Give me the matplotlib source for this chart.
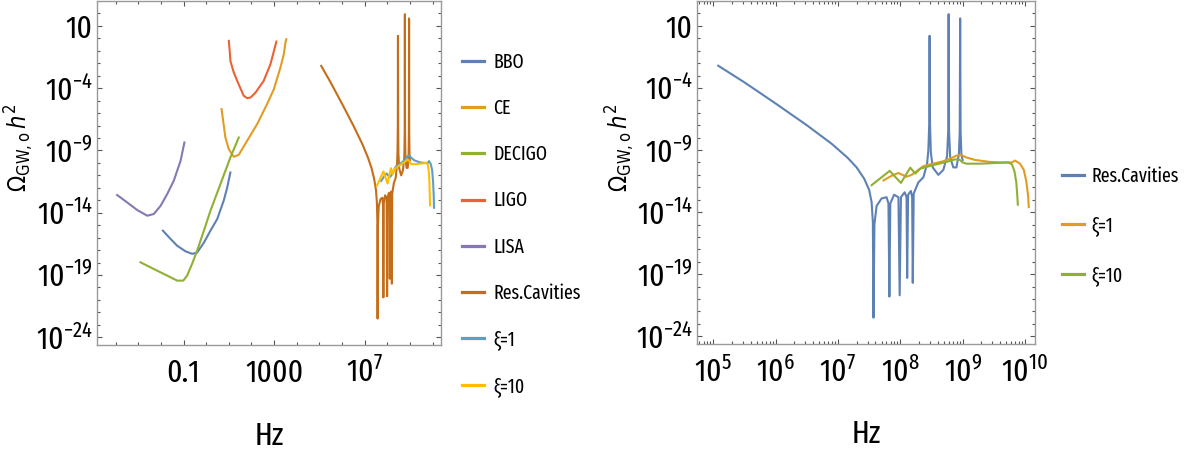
import numpy as np
import matplotlib
matplotlib.use('Agg')
import matplotlib.pyplot as plt
from matplotlib import font_manager
from matplotlib.ticker import FixedLocator, FixedFormatter, NullFormatter, LogLocator

# pick the narrow / condensed sans font closest to "extra-condensed"
SD = {'ultra-condensed': 100, 'extra-condensed': 200, 'condensed': 300, 'semi-condensed': 400,
      'normal': 500, 'semi-expanded': 600, 'expanded': 700, 'extra-expanded': 800, 'ultra-expanded': 900}
best = None
for f in font_manager.fontManager.ttflist:
    fn = f.fname.lower()
    nm = f.name.lower()
    if f.style != 'normal' or f.weight not in (400, 'normal', 'regular'):
        continue
    if any(k in fn or k in nm for k in ('mono', 'cjk', 'display', 'serif', 'math', 'symbol')) and 'sans' not in nm:
        continue
    if 'mono' in fn or 'cjk' in fn:
        continue
    st = f.stretch if isinstance(f.stretch, int) else SD.get(str(f.stretch), 500)
    if 'narrow' in nm or 'narrow' in fn:
        st = min(st, 300)
    if 'extracondensed' in fn.replace('-', '') or 'extracondensed' in nm.replace(' ', ''):
        st = min(st, 200)
    elif 'condensed' in fn or 'condensed' in nm:
        st = min(st, 300)
    if st >= 500:
        continue
    score = abs(st - 220)
    if best is None or score < best[0]:
        best = (score, f.name, f.stretch, st)

if best is None:
    FONT, STRETCH, ST = 'Liberation Sans', 'normal', 500
else:
    FONT, STRETCH, ST = best[1], best[2], best[3]

plt.rcParams['font.family'] = [FONT, 'DejaVu Sans']
plt.rcParams['font.stretch'] = STRETCH
plt.rcParams['mathtext.fontset'] = 'custom'
suffix = (':stretch=' + str(STRETCH)) if STRETCH not in ('normal', 500) else ''
plt.rcParams['mathtext.rm'] = FONT + suffix
plt.rcParams['mathtext.it'] = FONT + ':style=italic' + suffix
plt.rcParams['mathtext.bf'] = FONT + ':weight=bold' + suffix

if ST <= 250:
    TICKFS, LEGFS, HZFS = 23, 14, 23
elif ST <= 350:
    TICKFS, LEGFS, HZFS = 17, 12, 19
else:
    TICKFS, LEGFS, HZFS = 15, 11, 17
YLFS = 17

# ---------------- data (log10 f [Hz], log10 Omega h^2) ----------------
bbo_logf = [-1.91, -1.57, -1.28, -0.91, -0.62, -0.40, -0.10, 0.19, 0.49, 0.78, 0.93, 1.07]
bbo_logo = [-15.44, -16.11, -16.65, -17.1, -17.3, -17.2, -16.4, -15.44, -14.5, -13.0, -11.97, -10.77]

ce_logf = [0.68, 0.75, 0.85, 1.0, 1.22, 1.44, 1.81, 2.25, 2.69, 2.99, 3.28, 3.43, 3.50, 3.54]
ce_logo = [-5.68, -6.62, -7.96, -8.9, -9.51, -9.35, -8.22, -6.89, -5.28, -4.08, -2.34, -1.27, -0.34, -0.07]

decigo_logf = [-2.90, -2.31, -1.72, -1.28, -1.01, -0.84, -0.62, -0.40, -0.10, 0.19, 0.63, 1.07, 1.44]
decigo_logo = [-17.98, -18.52, -19.05, -19.45, -19.45, -19.05, -18.1, -17.05, -15.44, -13.84, -11.7, -9.56, -7.96]

ligo_logf = [1.0, 1.04, 1.07, 1.22, 1.37, 1.51, 1.66, 1.81, 1.96, 2.18, 2.54, 2.84, 3.1]
ligo_logo = [-0.2, -1.0, -1.81, -2.74, -3.41, -4.0, -4.61, -4.8, -4.75, -4.35, -3.41, -2.07, -0.26]

lisa_logf = [-3.93, -3.49, -3.04, -2.60, -2.31, -2.01, -1.72, -1.43, -1.13, -0.96]
lisa_logo = [-12.58, -13.17, -13.79, -14.24, -14.1, -13.44, -12.5, -11.43, -9.83, -8.36]

cav_logf = [5.08, 5.5, 6.0, 6.5, 6.9, 7.15, 7.3, 7.42, 7.5, 7.54, 7.56, 7.57, 7.585, 7.62,
            7.7, 7.78, 7.81, 7.825, 7.84, 7.9, 7.97, 7.99, 8.01, 8.07, 8.10, 8.11, 8.125,
            8.17, 8.19, 8.20, 8.215, 8.29, 8.37, 8.43, 8.45, 8.463, 8.47, 8.477, 8.49, 8.52,
            8.61, 8.69, 8.75, 8.768, 8.775, 8.782, 8.80, 8.85, 8.90, 8.94, 8.953, 8.96, 8.967, 8.98, 9.0]
cav_logo = [-2.21, -3.55, -5.25, -7.0, -8.5, -9.6, -10.4, -11.3, -12.2, -13.2, -14.8, -22.5, -15.0, -13.5,
            -12.9, -12.8, -13.3, -20.8, -13.3, -12.6, -12.8, -20.7, -12.8, -12.4, -12.8, -19.3, -12.6,
            -12.3, -12.8, -19.7, -12.5, -11.6, -11.2, -10.1, -9.0, -7.0, 0.2, -7.0, -9.2, -10.4,
            -11.0, -10.6, -9.5, -7.5, 1.94, -7.5, -9.6, -10.4, -10.4, -9.3, -7.5, 1.6, -7.5, -9.4, -9.8]

xi1_logf = [7.73, 7.85, 7.97, 8.10, 8.18, 8.29, 8.37, 8.53, 8.69, 8.82, 8.90, 8.98, 9.06, 9.2,
            9.44, 9.65, 9.79, 9.84, 9.92, 9.98, 10.02, 10.05, 10.06]
xi1_logo = [-11.45, -11.1, -10.85, -11.15, -11.0, -10.6, -10.3, -10.1, -9.9, -9.65, -9.45, -9.4, -9.6, -9.8,
            -9.96, -10.0, -10.0, -9.85, -10.1, -10.6, -11.5, -12.7, -13.6]

xi10_logf = [7.54, 7.83, 8.01, 8.16, 8.24, 8.32, 8.42, 8.58, 8.74, 8.88, 8.95, 9.0, 9.06, 9.28,
             9.55, 9.73, 9.79, 9.83, 9.86, 9.875, 9.885]
xi10_logo = [-11.83, -10.68, -11.65, -10.42, -10.9, -10.5, -10.36, -10.15, -9.96, -9.75, -9.78, -10.0, -10.1, -10.1,
             -10.04, -10.0, -10.15, -10.7, -11.6, -12.6, -13.4]

left_labels = ['BBO', 'CE', 'DECIGO', 'LIGO', 'LISA', 'Res.Cavities', 'ξ=1', 'ξ=10']
right_labels = ['Res.Cavities', 'ξ=1', 'ξ=10']

y_major_exp = [1, -4, -9, -14, -19, -24]
y_major_labels = ['10', '$10^{-4}$', '$10^{-9}$', '$10^{-14}$', '$10^{-19}$', '$10^{-24}$']
xl_major_exp = [-1, 3, 7]
xl_major_labels = ['0.1', '1000', '$10^{7}$']
xr_major_exp = [5, 6, 7, 8, 9, 10]
xr_major_labels = ['$10^{5}$', '$10^{6}$', '$10^{7}$', '$10^{8}$', '$10^{9}$', '$10^{10}$']

# Mathematica default palette
C = ['#5e81b5', '#e19c24', '#8fb032', '#eb6235', '#8778b3', '#c56e1a', '#5d9ec7', '#ffbf00']

W, H = 1188, 449
fig = plt.figure(figsize=(W / 100, H / 100), dpi=100)
ax1 = fig.add_axes([97 / W, 104 / H, 344 / W, 344 / H])
ax2 = fig.add_axes([697 / W, 105 / H, 338 / W, 343 / H])

def P(a):
    return 10.0 ** np.asarray(a, dtype=float)

LW = 1.5
left_series = [(bbo_logf, bbo_logo), (ce_logf, ce_logo), (decigo_logf, decigo_logo),
               (ligo_logf, ligo_logo), (lisa_logf, lisa_logo), (cav_logf, cav_logo),
               (xi1_logf, xi1_logo), (xi10_logf, xi10_logo)]
for (lf, lo), col, lab in zip(left_series, C, left_labels):
    ax1.plot(P(lf), P(lo), color=col, lw=LW, label=lab, solid_joinstyle='round')

right_series = [(cav_logf, cav_logo), (xi1_logf, xi1_logo), (xi10_logf, xi10_logo)]
for (lf, lo), col, lab in zip(right_series, C[:3], right_labels):
    ax2.plot(P(lf), P(lo), color=col, lw=LW, label=lab, solid_joinstyle='round')

FRAME = '#9a9a9a'
for ax in (ax1, ax2):
    ax.set_xscale('log')
    ax.set_yscale('log')
    ax.set_ylim(10 ** -24.62, 10 ** 3.0)
    for s in ax.spines.values():
        s.set_color(FRAME)
        s.set_linewidth(1.0)
    ax.tick_params(which='both', direction='in', top=True, right=True, color='#555555', width=0.8)
    ax.tick_params(which='major', length=3.6)
    ax.tick_params(which='minor', length=2.0)
    ax.tick_params(axis='x', which='major', labelsize=TICKFS, pad=27)
    ax.tick_params(axis='y', which='major', labelsize=TICKFS, pad=3)
    ax.yaxis.set_major_locator(FixedLocator(P(y_major_exp)))
    ax.yaxis.set_major_formatter(FixedFormatter(y_major_labels))
    ax.yaxis.set_minor_locator(FixedLocator(P(np.arange(-24, 3))))
    ax.yaxis.set_minor_formatter(NullFormatter())
    ax.set_xlabel('Hz', fontsize=HZFS)
    ax.set_ylabel(r'$\Omega_{\mathrm{GW,o}}\,h^{2}$', fontsize=YLFS, math_fontfamily='dejavusans')

ax1.set_xlim(10 ** -4.82, 10 ** 10.37)
ax1.xaxis.set_major_locator(FixedLocator(P(xl_major_exp)))
ax1.xaxis.set_major_formatter(FixedFormatter(xl_major_labels))
ax1.xaxis.set_minor_locator(FixedLocator(P(np.arange(-4, 11))))
ax1.xaxis.set_minor_formatter(NullFormatter())

ax2.set_xlim(10 ** 4.74, 10 ** 10.16)
ax2.xaxis.set_major_locator(FixedLocator(P(xr_major_exp)))
ax2.xaxis.set_major_formatter(FixedFormatter(xr_major_labels))
ax2.xaxis.set_minor_locator(LogLocator(base=10, subs=np.arange(2, 10), numticks=50))
ax2.xaxis.set_minor_formatter(NullFormatter())

for ax in (ax1, ax2):
    for t in ax.get_xticklabels():
        t.set_va('baseline')
    ax.xaxis.set_label_coords(0.5, -0.22)
ax1.yaxis.set_label_coords(-0.178, 0.574)
ax2.yaxis.set_label_coords(-0.178, 0.574)

leg1 = ax1.legend(loc='upper left', bbox_to_anchor=(462 / W, 1 - 52 / H), bbox_transform=fig.transFigure,
                  frameon=False, fontsize=LEGFS, handlelength=1.15, handletextpad=0.45,
                  labelspacing=1.37, borderpad=0, borderaxespad=0)
for l in leg1.get_lines():
    l.set_linewidth(2.3)
leg2 = ax2.legend(loc='upper left', bbox_to_anchor=(1062 / W, 1 - 166 / H), bbox_transform=fig.transFigure,
                  frameon=False, fontsize=LEGFS, handlelength=1.15, handletextpad=0.35,
                  labelspacing=1.52, borderpad=0, borderaxespad=0)
for l in leg2.get_lines():
    l.set_linewidth(2.3)

fig.savefig('out.png', dpi=100)
